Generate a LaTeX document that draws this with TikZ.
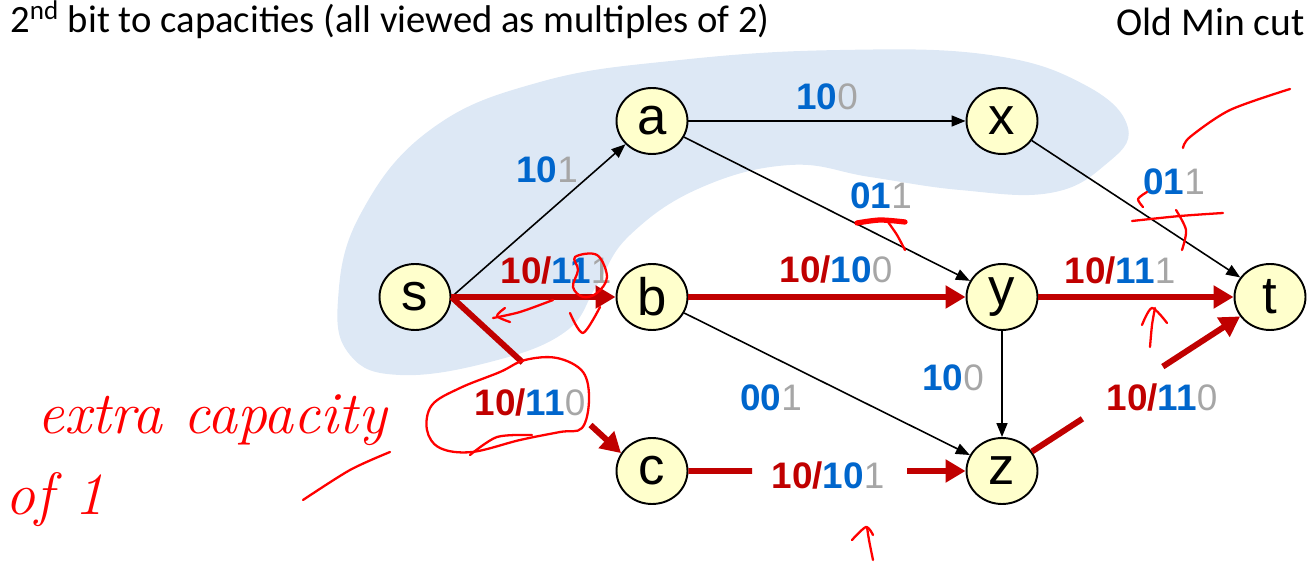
\documentclass[tikz,border=0pt]{standalone}
\usepackage{fontspec}
\setsansfont{Liberation Sans}
\newfontfamily\titlefont{Carlito}
\usetikzlibrary{arrows.meta, calc, shapes.geometric}

\definecolor{flowred}{RGB}{192,0,0}
\definecolor{capblue}{RGB}{0,102,204}
\definecolor{capgrey}{RGB}{166,166,166}
\definecolor{nodefill}{RGB}{255,255,204}
\definecolor{cutblue}{RGB}{221,232,245}
\definecolor{inkred}{RGB}{255,0,0}

\newcommand{\capbits}[2]{\textcolor{capblue}{\bfseries #1}\textcolor{capgrey}{#2}}
\newcommand{\flowbits}[3]{\textcolor{flowred}{\bfseries #1/}\textcolor{capblue}{\bfseries #2}\textcolor{capgrey}{#3}}

\tikzset{
	vertex/.style={shape=ellipse, draw, line width=1.1pt, fill=nodefill, minimum width=1.42cm, minimum height=1.32cm, inner sep=0pt, font=\sffamily\fontsize{30}{30}\selectfont},
	capedge/.style={draw, line width=0.9pt, -{Triangle[length=0.28cm, width=0.22cm]}},
	flowedge/.style={draw=flowred, line width=3.4pt},
	flowtip/.style={flowedge, -{Triangle[length=0.4cm, width=0.44cm]}},
	edgelabel/.style={inner sep=0pt, font=\sffamily\fontsize{21}{21}\selectfont},
	ink/.style={draw=inkred, line width=1.3pt, line cap=round, line join=round}
}

\begin{document}
\begin{tikzpicture}[x=0.02cm, y=-0.02cm]
	\useasboundingbox (0,0) rectangle (1308,563);
	% Old min cut region:
	\fill[cutblue] plot[smooth cycle, tension=0.7] coordinates {(1128,128) (1105,165) (1050,193) (960,190) (870,177) (790,165) (700,188) (630,235) (597,285) (565,332) (490,362) (400,375) (350,355) (338,300) (360,215) (430,130) (540,82) (680,60) (840,50) (990,55) (1085,85)};
	% Titles:
	\node[anchor=base west, inner sep=0pt, font=\titlefont\fontsize{22}{26}\selectfont] (title) at (10,33) {2\textsuperscript{nd} bit to capacities (all viewed as multiples of 2)};
	\node[anchor=base east, inner sep=0pt, font=\titlefont\fontsize{22.5}{27}\selectfont] (oldcut) at (1305,36) {Old Min cut};
	% Vertices:
	\node[vertex] (s) at (415,297) {s};
	\node[vertex] (a) at (652,121) {a};
	\node[vertex] (b) at (652,297) {b};
	\node[vertex] (c) at (652,471) {c};
	\node[vertex] (x) at (1002,121) {x};
	\node[vertex] (y) at (1002,297) {y};
	\node[vertex] (z) at (1002,471) {z};
	\node[vertex] (t) at (1270,297) {t};
	% Capacity edges:
	\draw[capedge] (s.east) -- (a);
	\draw[capedge] (a) -- (x);
	\draw[capedge] (a) -- (y);
	\draw[capedge] (x) -- (t);
	\draw[capedge] (b) -- (z);
	\draw[capedge] (y) -- (z);
	% Flow edges:
	\draw[flowtip] (s.east) -- (b);
	\draw[flowtip] (b) -- (y);
	\draw[flowtip] (y) -- (t);
	\coordinate (sc1) at ($(s.east)!0.42!(c.150)$);
	\coordinate (sc2) at ($(s.east)!0.82!(c.150)$);
	\draw[flowedge] (s.east) -- (sc1);
	\draw[flowtip] (sc2) -- (c.150);
	\coordinate (cz1) at ($(c)!0.286!(z)$);
	\coordinate (cz2) at ($(c)!0.729!(z)$);
	\draw[flowedge] (c) -- (cz1);
	\draw[flowtip] (cz2) -- (z);
	\coordinate (zt1) at ($(z)!0.3!(t)$);
	\coordinate (zt2) at ($(z)!0.6!(t)$);
	\draw[flowedge] (z) -- (zt1);
	\draw[flowtip] (zt2) -- (t);
	% Edge labels:
	\node[edgelabel] (lsa) at (547,170) {\capbits{10}{1}};
	\node[edgelabel] (lax) at (827,97) {\capbits{10}{0}};
	\node[edgelabel] (lay) at (881,196) {\capbits{01}{1}};
	\node[edgelabel] (lxt) at (1174,182) {\capbits{01}{1}};
	\node[edgelabel] (lbz) at (771,398) {\capbits{00}{1}};
	\node[edgelabel] (lyz) at (953,378) {\capbits{10}{0}};
	\node[edgelabel] (lsb) at (556,271) {\flowbits{10}{11}{1}};
	\node[edgelabel] (lby) at (836,270) {\flowbits{10}{10}{0}};
	\node[edgelabel] (lyt) at (1120,271) {\flowbits{10}{11}{1}};
	\node[edgelabel] (lsc) at (530,403) {\flowbits{10}{11}{0}};
	\node[edgelabel] (lcz) at (828,476) {\flowbits{10}{10}{1}};
	\node[edgelabel] (lzt) at (1162,398) {\flowbits{10}{11}{0}};
	% Hand notes:
	\node[inner sep=0pt, text=inkred, font=\rmfamily\itshape\fontsize{34}{34}\selectfont] (extra) at (212,420) {extra capacity};
	\node[inner sep=0pt, text=inkred, font=\rmfamily\itshape\fontsize{34}{34}\selectfont] (ofone) at (55,500) {of 1};
	\draw[ink] plot[smooth cycle, tension=0.6] coordinates {(525,360) (557,358) (583,372) (589,400) (582,428) (560,432) (520,440) (472,452) (440,448) (427,430) (432,405) (460,388) (500,372)};
	\draw[ink] plot[smooth] coordinates {(470,455) (497,437) (532,435)};
	\draw[ink] plot[smooth] coordinates {(303,500) (350,470) (390,452)};
	\draw[ink] plot[smooth] coordinates {(1183,148) (1190,137) (1230,110) (1290,89)};
	\draw[ink] plot[smooth] coordinates {(1132,221) (1180,216) (1223,213)};
	\draw[ink] plot[smooth] coordinates {(1176,210) (1186,230) (1182,250)};
	\draw[ink] plot[smooth] coordinates {(1143,207) (1138,199) (1147,192)};
	\draw[ink, line width=3pt] plot[smooth] coordinates {(857,223) (880,220) (905,222)};
	\draw[ink] plot[smooth] coordinates {(888,222) (897,235) (905,250)};
	\draw[ink] plot[smooth] coordinates {(1150,347) (1152,325) (1155,308)};
	\draw[ink] plot[smooth] coordinates {(1142,325) (1152,308) (1167,323)};
	\draw[ink] plot[smooth] coordinates {(873,560) (869,540) (867,527)};
	\draw[ink] plot[smooth] coordinates {(852,540) (866,527) (873,535)};
	\draw[ink] plot[smooth cycle, tension=0.6] coordinates {(575,257) (597,255) (607,277) (597,293) (583,297) (573,287) (578,270)};
	\draw[ink] plot[smooth] coordinates {(493,318) (520,312) (553,300)};
	\draw[ink] plot[smooth] coordinates {(505,308) (497,316) (510,322)};
	\draw[ink] plot[smooth] coordinates {(570,313) (583,333) (600,307)};
\end{tikzpicture}
\end{document}
